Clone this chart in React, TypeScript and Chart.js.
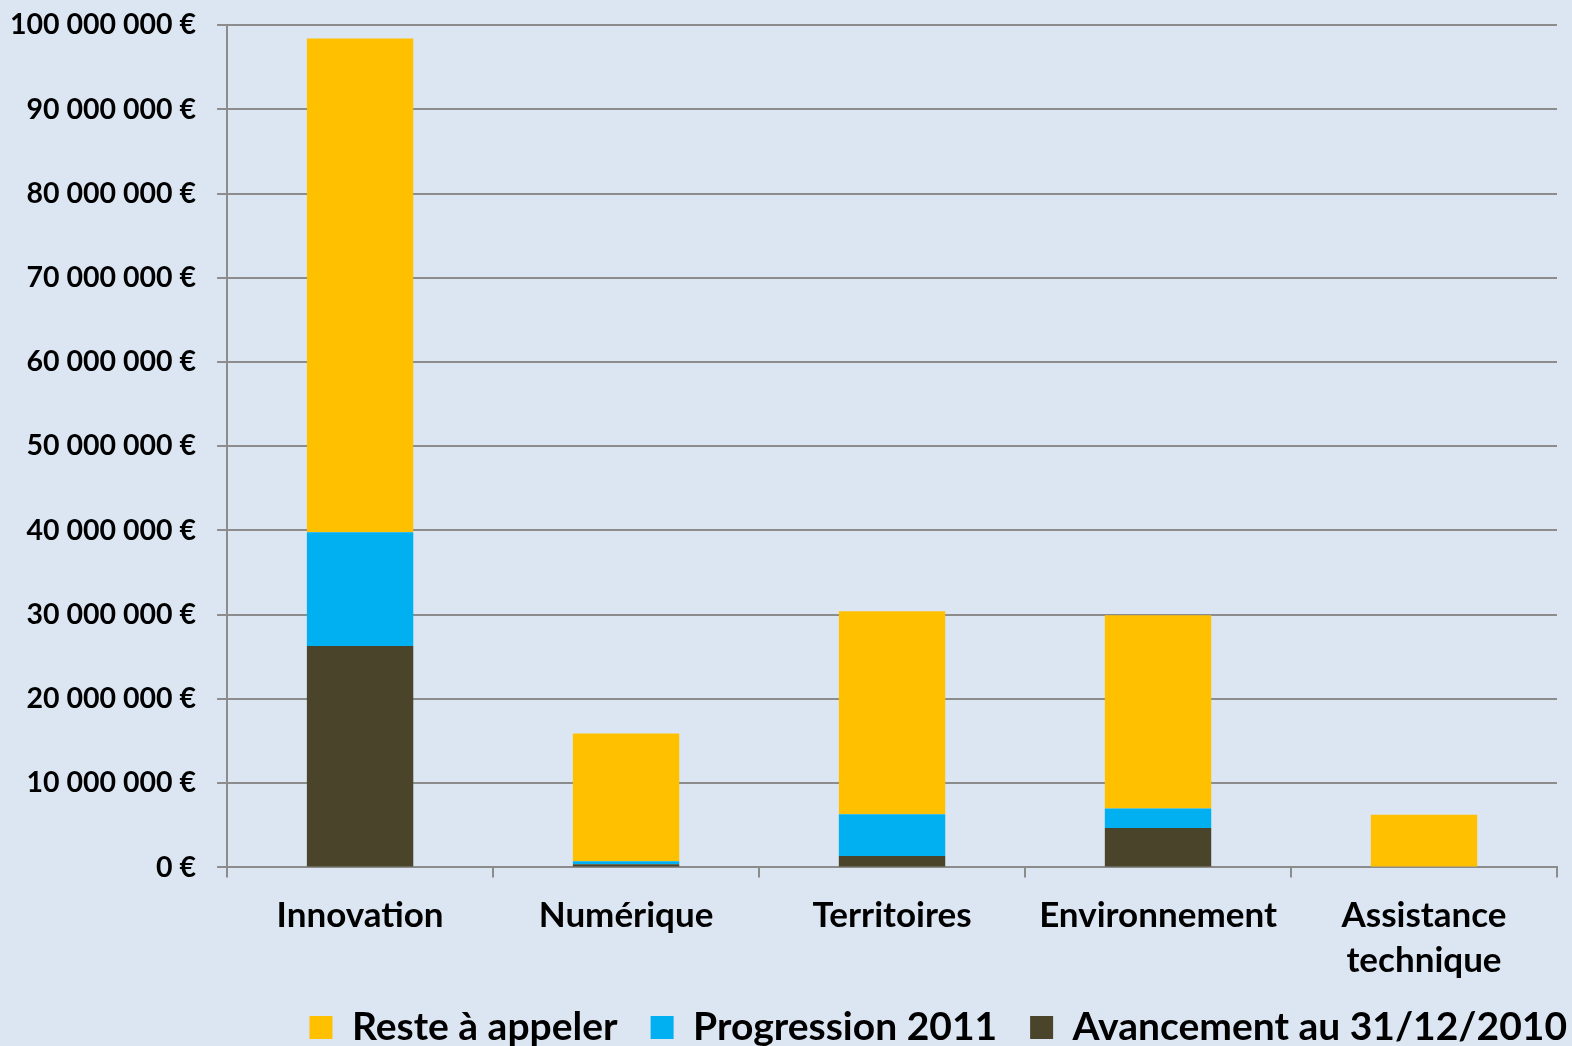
import React, { useEffect, useRef } from "react";
import { Chart, registerables } from "chart.js";

Chart.register(...registerables);

const categories: (string | string[])[] = [
  "Innovation",
  "Numérique",
  "Territoires",
  "Environnement",
  ["Assistance", "technique"],
];
const avancement2010 = [26300000, 360000, 1340000, 4670000, 0];
const progression2011 = [13500000, 360000, 4960000, 2330000, 0];
const resteAAppeler = [58600000, 15180000, 24100000, 22950000, 6260000];

const seriesLabels = ["Avancement au 31/12/2010", "Progression 2011", "Reste à appeler"];
const seriesColors = ["#4A452A", "#00B0F0", "#FFC000"];

const FONT = "Lato, 'Open Sans', sans-serif";
const LEGEND_PAD = 33;

function fmt(v: number): string {
  return String(Math.round(v)).replace(/\B(?=(\d{3})+(?!\d))/g, " ") + " €";
}

const legendShift = {
  id: "legendShift",
  afterLayout(chart: any) {
    const lg = chart.legend;
    if (lg) {
      lg.right = chart.width + LEGEND_PAD - 5;
      const h = lg.bottom - lg.top;
      lg.top = 975;
      lg.bottom = lg.top + h;
    }
  },
};

export default function App() {
  const ref = useRef<HTMLCanvasElement | null>(null);
  useEffect(() => {
    document.body.style.margin = "0";
    document.body.style.background = "#DCE6F2";
    if (!ref.current) return;
    const data = [avancement2010, progression2011, resteAAppeler];
    const chart = new Chart(ref.current, {
      type: "bar",
      data: {
        labels: categories,
        datasets: data.map((d, i) => ({
          label: seriesLabels[i],
          data: d,
          backgroundColor: seriesColors[i],
          borderWidth: 0,
          categoryPercentage: 1,
          barPercentage: 0.4,
        })),
      },
      plugins: [legendShift],
      options: {
        animation: false,
        responsive: false,
        maintainAspectRatio: false,
        layout: { padding: { left: 2, right: 15, top: 0, bottom: -35 } },
        plugins: {
          tooltip: { enabled: false },
          legend: {
            position: "bottom",
            align: "end",
            reverse: true,
            labels: {
              boxWidth: 23,
              boxHeight: 23,
              padding: LEGEND_PAD,
              color: "#000",
              font: { family: FONT, size: 39, weight: "bold" },
            },
          },
        },
        scales: {
          x: {
            stacked: true,
            grid: {
              offset: true,
              drawOnChartArea: false,
              drawTicks: true,
              tickLength: 10,
              color: "#8C8C8C",
              lineWidth: 2,
            },
            border: { color: "#8C8C8C", width: 2 },
            ticks: {
              color: "#000",
              padding: 16,
              font: { family: FONT, size: 35, weight: "bold", lineHeight: 1.28 },
              maxRotation: 0,
              autoSkip: false,
            },
          },
          y: {
            stacked: true,
            min: 0,
            max: 100000000,
            grid: {
              color: "#8C8C8C",
              lineWidth: 2,
              drawTicks: true,
              tickLength: 23,
              tickBorderDash: [0, 13, 10, 1000],
            },
            border: { color: "#8C8C8C", width: 2 },
            ticks: {
              stepSize: 10000000,
              color: "#000",
              padding: 8,
              font: { family: FONT, size: 28.5, weight: "bold" },
              callback: (v: any) => fmt(Number(v)),
            },
          },
        },
      },
    });
    return () => chart.destroy();
  }, []);
  return (
    <div style={{ width: 1572, height: 1046, background: "#DCE6F2" }}>
      <canvas ref={ref} width={1572} height={1046} style={{ display: "block" }} />
    </div>
  );
}
